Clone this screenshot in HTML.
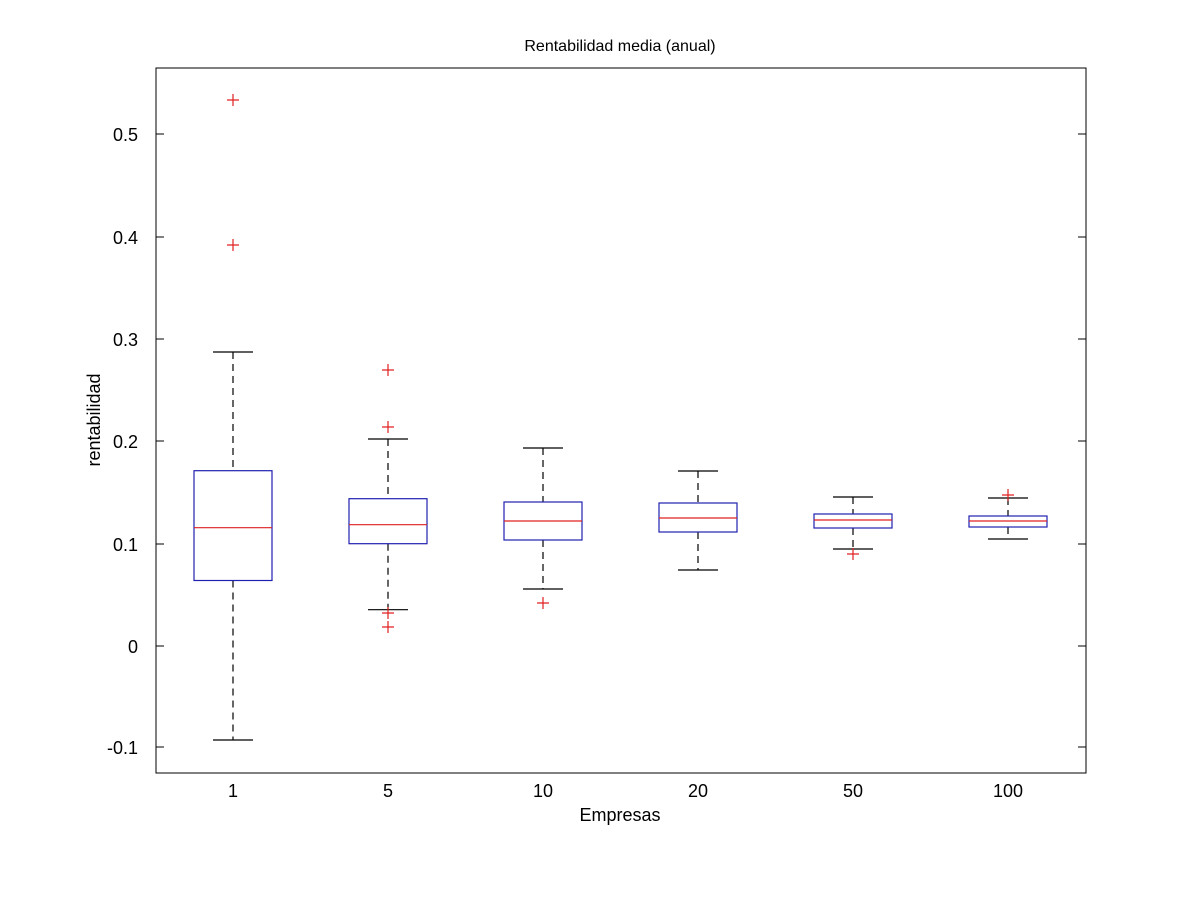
<!DOCTYPE html>
<html><head><style>body{margin:0;background:#fff}svg{display:block}</style></head><body>
<svg width="1200" height="900" xmlns="http://www.w3.org/2000/svg" font-family="Liberation Sans, Arial, sans-serif">
<rect width="1200" height="900" fill="#fff"/>
<rect x="156" y="68" width="930" height="705" fill="none" stroke="#000" stroke-width="1"/>
<g stroke="#000" stroke-width="1">
<line x1="156" y1="134" x2="164" y2="134"/><line x1="1086" y1="134" x2="1078" y2="134"/>
<line x1="156" y1="237" x2="164" y2="237"/><line x1="1086" y1="237" x2="1078" y2="237"/>
<line x1="156" y1="339" x2="164" y2="339"/><line x1="1086" y1="339" x2="1078" y2="339"/>
<line x1="156" y1="441" x2="164" y2="441"/><line x1="1086" y1="441" x2="1078" y2="441"/>
<line x1="156" y1="544" x2="164" y2="544"/><line x1="1086" y1="544" x2="1078" y2="544"/>
<line x1="156" y1="646" x2="164" y2="646"/><line x1="1086" y1="646" x2="1078" y2="646"/>
<line x1="156" y1="747" x2="164" y2="747"/><line x1="1086" y1="747" x2="1078" y2="747"/>
</g>
<g font-size="18" text-anchor="end" fill="#000">
<text x="138" y="141">0.5</text><text x="138" y="244">0.4</text><text x="138" y="346">0.3</text>
<text x="138" y="448">0.2</text><text x="138" y="551">0.1</text><text x="138" y="653">0</text><text x="138" y="754">-0.1</text>
</g>
<g font-size="18" text-anchor="middle" fill="#000">
<text x="233" y="797">1</text><text x="388" y="797">5</text><text x="543" y="797">10</text>
<text x="698" y="797">20</text><text x="853" y="797">50</text><text x="1008" y="797">100</text>
<text x="620" y="821">Empresas</text>
<text x="620" y="51" font-size="16">Rentabilidad media (anual)</text>
<text transform="translate(100,420) rotate(-90)">rentabilidad</text>
</g>
<g stroke="#000" stroke-width="1.2" stroke-dasharray="7,5">
<line x1="233" y1="352" x2="233" y2="470.7"/><line x1="233" y1="580.5" x2="233" y2="740"/>
<line x1="388" y1="439" x2="388" y2="498.7"/><line x1="388" y1="543.7" x2="388" y2="609.7"/>
<line x1="543" y1="448" x2="543" y2="502"/><line x1="543" y1="540" x2="543" y2="589"/>
<line x1="698" y1="471" x2="698" y2="503"/><line x1="698" y1="532" x2="698" y2="570"/>
<line x1="853" y1="497" x2="853" y2="514"/><line x1="853" y1="528" x2="853" y2="549"/>
<line x1="1008" y1="498" x2="1008" y2="516"/><line x1="1008" y1="527" x2="1008" y2="539"/>
</g>
<g stroke="#000" stroke-width="1.2">
<line x1="213" y1="352" x2="253" y2="352"/><line x1="213" y1="740" x2="253" y2="740"/>
<line x1="368" y1="439" x2="408" y2="439"/><line x1="368" y1="609.7" x2="408" y2="609.7"/>
<line x1="523" y1="448" x2="563" y2="448"/><line x1="523" y1="589" x2="563" y2="589"/>
<line x1="678" y1="471" x2="718" y2="471"/><line x1="678" y1="570" x2="718" y2="570"/>
<line x1="833" y1="497" x2="873" y2="497"/><line x1="833" y1="549" x2="873" y2="549"/>
<line x1="988" y1="498" x2="1028" y2="498"/><line x1="988" y1="539" x2="1028" y2="539"/>
</g>
<g stroke="#2020b0" stroke-width="1.2" fill="none">
<rect x="194" y="470.7" width="78" height="109.8"/>
<rect x="349" y="498.7" width="78" height="45"/>
<rect x="504" y="502" width="78" height="38"/>
<rect x="659" y="503" width="78" height="29"/>
<rect x="814" y="514" width="78" height="14"/>
<rect x="969" y="516" width="78" height="11"/>
</g>
<g stroke="#e02020" stroke-width="1.2" fill="none">
<line x1="194" y1="527.7" x2="272" y2="527.7"/>
<line x1="349" y1="524.7" x2="427" y2="524.7"/>
<line x1="504" y1="521" x2="582" y2="521"/>
<line x1="659" y1="518" x2="737" y2="518"/>
<line x1="814" y1="520" x2="892" y2="520"/>
<line x1="969" y1="521" x2="1047" y2="521"/>
<path d="M227 100H239M233 94V106M227 245H239M233 239V251M382 370H394M388 364V376M382 427H394M388 421V433M382 613H394M388 607V619M382 627H394M388 621V633M537 603H549M543 597V609M847 554H859M853 548V560M1002 495H1014M1008 489V501"/>
</g>
</svg>
</body></html>
